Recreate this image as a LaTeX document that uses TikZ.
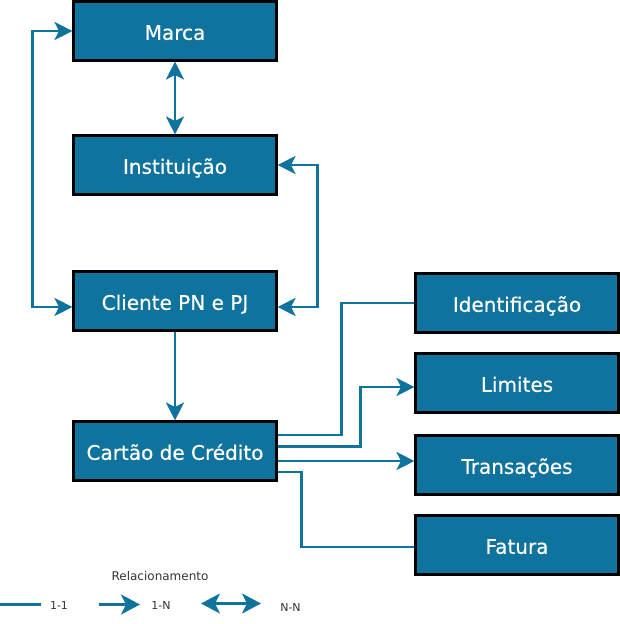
\documentclass[tikz,border=0pt]{standalone}
\usepackage{fontspec}
\setmainfont{DejaVu Sans}
\newfontfamily\boxfont[FakeBold=0.4]{DejaVu Sans}
\usetikzlibrary{arrows.meta}
\definecolor{BoxFill}{RGB}{16,115,158}
\definecolor{LnkLine}{RGB}{16,115,158}
\definecolor{LegText}{RGB}{51,51,51}
\tikzset{
  nd_box/.style={
    rectangle, draw=black, line width=2.6pt, fill=BoxFill, text=white,
    minimum width=202.5pt, minimum height=58.5pt, inner sep=0pt,
    text height=17.6pt, text depth=0pt,
    font=\boxfont\fontsize{20}{24}\selectfont},
  nd_leg/.style={
    inner sep=0pt, text=LegText, font=\fontsize{11}{13}\selectfont},
  lnk/.style={draw=LnkLine, line width=2.3pt},
  arr/.style={lnk,-{Stealth[length=18pt,width=18pt,inset=4.5pt]}},
  dbl/.style={lnk,{Stealth[length=18pt,width=18pt,inset=4.5pt]}-{Stealth[length=18pt,width=18pt,inset=4.5pt]}},
  legarr/.style={lnk,-{Stealth[length=19pt,width=20pt,inset=5pt]}},
  legdbl/.style={lnk,{Stealth[length=19pt,width=20pt,inset=5pt]}-{Stealth[length=19pt,width=20pt,inset=5pt]}},
}

\begin{document}
\begin{tikzpicture}[x=1pt,y=-1pt]
\useasboundingbox (0,0) rectangle (620,624);

%% Left column
\node[nd_box] at (175,31)  (Marca)  {Marca};
\node[nd_box] at (175,165) (Inst)   {Instituição};
\node[nd_box] at (175,301) (Cli)    {Cliente PN e PJ};
\node[nd_box] at (175,451) (Cartao) {Cartão de Crédito};

%% Right column
\node[nd_box] at (517,303) (Ident)  {Identificação};
\node[nd_box] at (517,383) (Lim)    {Limites};
\node[nd_box] at (517,465) (Trans)  {Transações};
\node[nd_box] at (517,545) (Fat)    {Fatura};

\draw[dbl] (Marca)--(Inst);
\draw[dbl] (Marca.west)--++(-40,0) |- ([yshift=-6pt]Cli.west);
\draw[dbl] (Inst.east)--++(40,0) |- ([yshift=-6pt]Cli.east);
\draw[arr] (Cli)--(Cartao);

\draw[lnk] ([yshift=16pt]Cartao.east)--++(64,0) |- (Ident.west);
\draw[arr] ([yshift=4.5pt]Cartao.east)--++(83,0) |- ([yshift=-4pt]Lim.west);
\draw[arr] ([yshift=-10pt]Cartao.east)--([yshift=4pt]Trans.west);
\draw[lnk] ([yshift=-21pt]Cartao.east)--++(24,0) |- ([yshift=-2pt]Fat.west);

%% Legend
\node[nd_leg,font=\fontsize{12}{14}\selectfont] at (160,576) (LegT) {Relacionamento};
\coordinate (L1a) at (0,604.5);   \coordinate (L1b) at (41,604.5);
\coordinate (L2a) at (99,604.5);  \coordinate (L2b) at (140,604.5);
\coordinate (L3a) at (201,603.5); \coordinate (L3b) at (261,603.5);
\node[nd_leg] at (59,605.5)  (Leg1) {1-1};
\node[nd_leg] at (161,605)   (Leg2) {1-N};
\node[nd_leg] at (290.5,607.5) (Leg3) {N-N};
\draw[lnk]    (L1a)--(L1b);
\draw[legarr] (L2a)--(L2b);
\draw[legdbl] (L3a)--(L3b);

\end{tikzpicture}
\end{document}
